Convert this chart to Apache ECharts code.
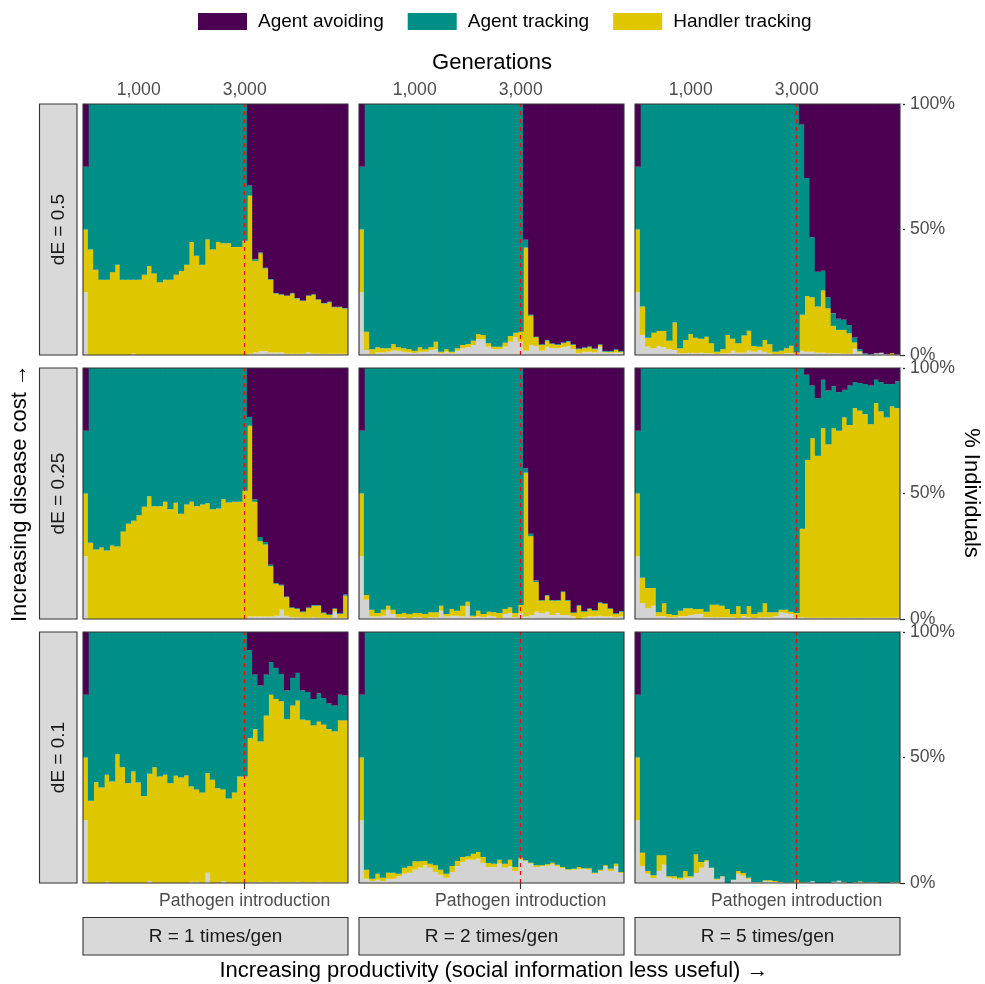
<!DOCTYPE html>
<html>
<head>
<meta charset="utf-8">
<script src="https://cdn.jsdelivr.net/npm/echarts@6/dist/echarts.min.js"></script>
<style>
  html, body { margin: 0; padding: 0; background: #ffffff; }
  #chart { width: 985px; height: 984px; }
</style>
</head>
<body>
<div id="chart"></div>
<script>
// generation bins (x categories)
const generations = ['0','100','200','300','400','500','600','700','800','900',
  '1000','1100','1200','1300','1400','1500','1600','1700','1800','1900',
  '2000','2100','2200','2300','2400','2500','2600','2700','2800','2900',
  '3000','3100','3200','3300','3400','3500','3600','3700','3800','3900',
  '4000','4100','4200','4300','4400','4500','4600','4700','4800','4900'];
const topTickGens = ['1000', '3000'];
const pathogenGen = '3000';
const yTicks = [0, 50, 100];
const dELabels = ['dE = 0.5', 'dE = 0.25', 'dE = 0.1'];
const rLabels = ['R = 1 times/gen', 'R = 2 times/gen', 'R = 5 times/gen'];

// % of individuals per bin; "avoiding" is whatever is left up to 100
// dE = 0.5
const other_05_r1 = [25, 0,0,0,0,0,0,0,0,0.5,0, 0,0,0,0,0,0,0,0,0,0, 0,0,0,0,0,0,0,0,0,0, 0.5,1,1.5,1.5,1,1,1,0.5,0.5,0.5, 0.5,1,0.5,0.5,0.5,0.5,0.5,0.5,0.5];
const handler_05_r1 = [25, 42,34,30,30,33,36,30,30,29.5,30, 32,35.5,32.5,29,30,30,32,33.5,36,45, 39.5,36,46,42,45,44.5,44.5,43,43,45.5, 63,36.5,39,33,29,23.5,23,23,24,22, 21,22.5,23.5,21.5,20,20.5,18.5,18.5,18];
const tracking_05_r1 = [25, 58,66,70,70,67,64,70,70,70,70, 68,64.5,67.5,71,70,70,68,66.5,64,55, 60.5,64,54,58,55,55.5,55.5,57,57,54.5, 4,0.6,0.3,0.3,0.3,0.2,0.2,0.2,0.2,0.2, 0.2,0.2,0.2,0.2,0.2,0.2,0.2,0.2,0.2];

const other_05_r2 = [25, 2,0.3,1,1,1.3,2,1.7,1.3,1,0.9, 1.3,1.3,2,2.3,0.7,1.3,0.7,1.7,2.7,3.1, 4,6.3,6.3,3.3,2.3,2.3,3.3,5.3,7,5.3, 1.7,4,3.6,1.7,3.3,2.7,2.7,3.1,3.6,2.3, 0.7,1.3,1.3,1,3.3,1,0.9,1,0.9];
const handler_05_r2 = [25, 7.3,2,2.1,1.7,1.4,2.4,1.4,1.4,1.3,0.8, 1.8,1,1.1,3,0.6,1,0.6,1,1.3,1.3, 1.7,2.1,1.7,1.4,1,1,1.6,2.3,1.9,4, 41.1,11.7,3.4,2.3,2.4,1.7,1.3,1.6,1.7,1.7, 1.6,1.4,1.8,1.3,0.7,0.3,0.4,1,0.4];
const tracking_05_r2 = [25, 90.7,97.7,96.9,97.3,97.3,95.6,96.9,97.3,97.7,98.3, 96.9,97.7,96.9,94.7,98.7,97.7,98.7,97.3,96,95.6, 94.3,91.6,92,95.3,96.7,96.7,95.1,92.4,91.1,90.7, 3.1,0.3,0.3,0.3,0.3,0.3,0.3,0.3,0.3,0.3, 0.3,0.3,0.3,0.3,0.3,0.3,0.3,0.3,0.3];

const other_05_r5 = [25, 8,3.3,2.7,3.6,3.1,2.3,2,0.7,0.7,0.9, 0.7,0.9,0.7,0.7,0.4,0.7,0.7,1.7,0.9,0.9, 1.7,1.3,2,1.3,0.7,0.4,0.4,0.7,0.7,0.4, 1.7,1.3,1.3,0.9,0.9,0.7,0.7,0.7,0.5,0.5, 2.5,1,0.3,0.2,0.7,0.9,0.4,0,0.2];
const handler_05_r5 = [25, 11.3,3.6,6.2,6,6.5,3.4,10.9,2,5.3,7.5, 6.2,5.6,6.6,4,0.9,1.6,7.3,4.8,3.8,6.9, 8,2.3,1.3,4.7,3.6,0.9,1.3,2,3,0.6, 14.3,22.2,21.7,18.4,24.8,17.9,10.9,9.3,9.5,8.1, 2.5,0.5,0,0,0,0,0,0.7,0];
const tracking_05_r5 = [25, 80.7,93.1,91.1,90.4,90.4,94.3,87.1,97.3,94,91.6, 93.1,93.5,92.7,95.3,98.7,97.7,92,93.5,95.3,92.2, 90.3,96.4,96.7,94,95.7,98.7,98.3,97.3,96.3,99, 75.8,47,23.9,13.9,7.9,4.4,5,4.4,4,3.4, 2,0.8,0.4,0.1,0,0,0,0,0];

// dE = 0.25
const other_025_r1 = [25, 0,0,0,0,0,0,0,0,0,0, 0,0,0,0,0,0,0,0,0,0, 0,0,0,0,0,0,0,0,0,0, 1,1,1,1,1,1.3,3.7,1.3,0.7,0.7, 0.5,0.5,0.7,0.5,0.5,0.5,2.9,0.5,0.5];
const handler_025_r1 = [25, 30.4,27.7,28.5,27.3,29.3,28.9,34.9,37.9,39.1,41.3, 44.7,48.9,44.9,44.9,46.7,43.7,46.3,41.9,45.6,46.7, 44.9,45.6,46.1,43.7,44,47.7,46.4,46.7,46.7,51.1, 76,45.7,30,28.7,20,12.7,9.6,7.4,3.7,3.3, 2.2,3.8,4.6,4.8,1.8,1.1,1.1,1.5,8.8];
const tracking_025_r1 = [25, 69.6,72.3,71.5,72.7,70.7,71.1,65.1,62.1,60.9,58.7, 55.3,51.1,55.1,55.1,53.3,56.3,53.7,58.1,54.4,53.3, 55.1,54.4,53.9,56.3,56,52.3,53.6,53.3,53.3,48.9, 3.5,1,1.7,1,0.6,0.3,0.3,0.3,0.3,0.3, 0.3,0.3,0.3,0.3,0.3,0.3,0.3,0.3,0.5];

const other_025_r2 = [25, 7.7,1,1,1.3,3.7,2,0.7,0.7,0.4,0.7, 0.7,0.4,0.7,0.7,3.3,1,1.3,1.3,1,5.1, 0.7,1,0.7,1.3,1,0.4,2,2.4,0.7,2.4, 1,1.6,2.9,2.4,2.9,1.6,2.4,1.6,1.6,1, 0,0.7,1,1,1.3,1,1,0.7,1];
const handler_025_r2 = [25, 1.9,2.7,1.4,2.4,1.6,1.7,1.3,1.7,1.5,1.7, 1.6,1.6,2,2,2,1,2.7,2,4.3,1.8, 0.6,2.3,1.3,1.6,1.7,2,2,2.3,1.7,3.2, 57.3,31.4,11.8,4.9,6.4,5.7,4.9,9.1,5.7,1.4, 5.3,2.2,3,2.3,5.1,5,3,1.3,1.9];
const tracking_025_r2 = [25, 90.4,96.3,97.6,96.3,94.7,96.3,98,97.6,98.1,97.6, 97.7,98,97.3,97.3,94.7,98,96,96.7,94.7,93.1, 98.7,96.7,98,97.1,97.3,97.6,96,95.3,97.6,94.4, 1.7,1,0.6,0.3,0.3,0.3,0.3,0.3,0.3,0.3, 0.3,0.3,0.3,0.3,0.3,0.3,0.3,0.3,0.3];

const other_025_r5 = [25, 6.4,4.3,5.3,1.1,1.1,0.7,0.7,1.1,1.1,1.6, 2,2,0.7,0.7,0.7,0.7,0.7,0.7,0.4,1.1, 0.7,0.4,0.7,0.7,0.7,1.1,2.7,2.4,2,0.7, 0.7,0.5,0.5,0.5,0.5,0.5,0.5,0.5,0.5,0.5, 0.5,0.5,0.5,0.5,0.5,0.5,0.5,0.5,0.5];
const handler_025_r5 = [25, 10,8.1,7.1,1.6,5.2,1.3,0.9,2.2,3.2,2.7, 2,2,2.2,5,5,4.6,3.3,1.3,4.7,0.9, 4.4,1.6,2,5.6,2,1.6,1,1.3,0.9,1.7, 35.3,62.8,71.5,64.5,75.5,69.1,75.5,74.5,79.8,76.8, 83.5,82.5,81.1,77.1,85.5,82.2,79.8,84.2,83.5];
const tracking_025_r5 = [25, 83.6,87.6,87.6,97.3,93.7,98,98.4,96.7,95.7,95.7, 96,96,97.1,94.3,94.3,94.7,96,98,94.9,98, 94.9,98,97.3,93.7,97.3,97.3,96.3,96.3,97.1,97.6, 64,34,21,23,19.3,21.4,16.7,15.4,11,15.7, 10.4,11,12,15.4,9.3,11.7,13.3,8.9,10.7];

// dE = 0.1
const other_01_r1 = [25, 0,0,0,0.5,0,0,0,0,0,0, 0,0.8,0,0,0,0,0,0,0,0.5, 0.5,0,4.1,0,0,0.8,0,0,0,0, 0.3,0.3,0.5,0.3,0.3,0.5,0.3,0.3,0.3,0.5, 0.3,0.3,0.3,0.5,0.3,0.3,0.3,0.3,0.3];
const handler_01_r1 = [25, 32.8,40.1,38,42.6,40.4,51.3,46.1,39.7,44.4,40, 34.7,42.7,46.1,42.4,43.1,39.7,42.7,42,42.8,37.9, 36.8,36.1,39.6,41.1,37.7,36.5,33.7,36.1,42.4,42.4, 57.4,61,55.9,66.4,74.7,72.8,72.1,65,70.4,72.2, 64.8,64.5,62.5,63.8,62.8,61,60.1,64.5,64.5];
const tracking_01_r1 = [25, 67.2,59.9,62,56.9,59.6,48.7,53.9,60.3,55.6,60, 65.3,56.5,53.9,57.6,56.9,60.3,57.3,58,57.2,61.6, 62.7,63.9,56.3,58.9,62.3,62.7,66.3,63.9,57.6,57.6, 35.1,21.7,22.3,16.3,13,12.4,10.9,11.4,11,11, 11.6,11.3,10.5,11.2,10.6,10.2,10.3,10.2,9.9];

const other_01_r2 = [25, 1.7,0.8,1.3,0.8,1.7,1.7,2.7,3.7,4.1,5.3, 6.1,7.1,6.1,4.4,3.3,2.1,4.4,6.7,8.4,9.3, 9.3,9.7,8,6.4,6.4,7.7,6.1,6.7,4.8,9.3, 8.8,7.7,6.4,6.7,6.9,7.5,6.7,5.9,5.1,5.3, 5.6,5.5,5.3,3.7,4.8,6.7,4.8,6.7,4];
const handler_01_r2 = [25, 3.6,0.9,2.4,1.3,2.4,2.4,1,2.4,2.6,3.4, 2.6,1.7,1.6,2.7,2,1.6,2.4,2.1,2,1.4, 2.4,2.7,2.4,1.6,1.3,1.6,1.6,2.6,1.6,0.8, 0.3,0.4,0.7,0.4,0.6,0.6,0.6,0.5,0.4,0.4, 0.8,0.4,0.6,0.4,0.5,0.4,0.9,1,0.4];
const tracking_01_r2 = [25, 94.7,98.3,96.3,97.9,95.9,95.9,96.3,93.9,93.3,91.3, 91.3,91.2,92.3,92.9,94.7,96.3,93.2,91.2,89.6,89.3, 88.3,87.6,89.6,92,92.3,90.7,92.3,90.7,93.6,89.9, 90.9,91.9,92.9,92.9,92.5,91.9,92.7,93.6,94.5,94.3, 93.6,94.1,94.1,95.9,94.7,92.9,94.3,92.3,95.6];

const other_01_r5 = [25, 6.8,3.7,2,4.8,7.3,2.1,1.7,1.3,2.1,2.1, 4,6.1,8.5,5.9,1.3,2.5,0,1.2,3.7,2.9, 1.7,0.3,0.3,0.8,0.6,0.4,0.3,0.2,0.2,0.3, 0,0.3,0.7,0,0,0,0.5,0.9,0,0, 0,0.3,0,0.3,0,0,0,0.3,0];
const handler_01_r5 = [25, 5.3,1.1,1.1,6.3,3.8,0.6,1,0.8,2.7,0.6, 7.5,2.3,0.6,0.2,0.4,0.2,0,0.1,1.1,1.1, 0.4,0.1,0.1,0.3,0.5,0.4,0.1,0,0,0.8, 0.3,0,0,0,0,0,0,0,0.3,0, 0.3,0.3,0.3,0,0.3,0,0,0,0.3];
const tracking_01_r5 = [25, 87.9,95.2,96.9,88.9,88.9,97.3,97.3,97.9,95.2,97.3, 88.5,91.6,90.9,93.9,98.3,97.3,100,98.7,95.2,96, 97.9,99.6,99.6,98.9,98.9,99.2,99.6,99.8,99.8,98.9, 99.7,99.7,99.3,100,100,100,99.5,99.1,99.7,100, 99.7,99.4,99.7,99.7,99.7,100,100,99.7,99.7];

const panels = [
  [other_05_r1, handler_05_r1, tracking_05_r1], [other_05_r2, handler_05_r2, tracking_05_r2], [other_05_r5, handler_05_r5, tracking_05_r5],
  [other_025_r1, handler_025_r1, tracking_025_r1], [other_025_r2, handler_025_r2, tracking_025_r2], [other_025_r5, handler_025_r5, tracking_025_r5],
  [other_01_r1, handler_01_r1, tracking_01_r1], [other_01_r2, handler_01_r2, tracking_01_r2], [other_01_r5, handler_01_r5, tracking_01_r5]
];

// layout
const FONT = 'Liberation Sans, Arial, sans-serif';
const colLeft = [83, 359, 635];
const colWidth = 265;
const rowTop = [104, 368, 632];
const rowHeight = 251;

const colors = { other: '#D3D3D3', handler: '#DFC700', tracking: '#008F86', avoiding: '#4C0052' };

const chart = echarts.init(document.getElementById('chart'), null, { renderer: 'canvas' });

const grids = [], xAxes = [], yAxes = [], series = [], graphics = [];

panels.forEach(function (p, k) {
  const row = Math.floor(k / 3), col = k % 3;
  const other = p[0], handler = p[1], tracking = p[2];
  const avoiding = other.map(function (v, i) {
    return Math.max(0, Math.round((100 - v - handler[i] - tracking[i]) * 10) / 10);
  });

  grids.push({ left: colLeft[col], top: rowTop[row], width: colWidth, height: rowHeight, show: false });

  const xa = {
    gridIndex: k, type: 'category', data: generations,
    axisLine: { show: false }, splitLine: { show: false },
    axisTick: { show: false }, axisLabel: { show: false }
  };
  if (row === 0) {
    const pick = function (i, v) { return topTickGens.indexOf(v) >= 0; };
    xa.position = 'top';
    xa.axisTick = { show: true, alignWithLabel: true, interval: pick, length: 6, lineStyle: { color: '#333333', width: 1.2 } };
    xa.axisLabel = { show: true, interval: pick, margin: 5, color: '#4D4D4D', fontSize: 17.6, fontFamily: FONT,
      formatter: function (v) { return Number(v).toLocaleString('en-US'); } };
  } else if (row === 2) {
    const pick = function (i, v) { return v === pathogenGen; };
    xa.position = 'bottom';
    xa.axisTick = { show: true, alignWithLabel: true, interval: pick, length: 6, lineStyle: { color: '#333333', width: 1.2 } };
    xa.axisLabel = { show: true, interval: pick, margin: 9, color: '#4D4D4D', fontSize: 17.6, fontFamily: FONT,
      formatter: function () { return 'Pathogen introduction'; } };
  }
  xAxes.push(xa);

  yAxes.push({
    gridIndex: k, type: 'value', min: yTicks[0], max: yTicks[2], interval: 50, position: 'right',
    axisLine: { show: false }, splitLine: { show: false },
    axisTick: { show: col === 2, length: 5, lineStyle: { color: '#333333', width: 1.3 } },
    axisLabel: { show: col === 2, margin: 10, color: '#4D4D4D', fontSize: 17.6, fontFamily: FONT, formatter: '{value}%' }
  });

  const layers = [
    { name: 'Other', data: other, color: colors.other },
    { name: 'Handler tracking', data: handler, color: colors.handler },
    { name: 'Agent tracking', data: tracking, color: colors.tracking },
    { name: 'Agent avoiding', data: avoiding, color: colors.avoiding }
  ];
  layers.forEach(function (l, li) {
    const s = {
      type: 'bar', name: l.name, xAxisIndex: k, yAxisIndex: k, stack: 'panel' + k,
      data: l.data, barWidth: '115%', barGap: '0%',
      itemStyle: { color: l.color },
      emphasis: { disabled: true }
    };
    if (li === layers.length - 1) {
      s.markLine = {
        silent: true, symbol: ['none', 'none'], label: { show: false },
        lineStyle: { color: '#FF0000', type: [4, 4], width: 1.2 },
        data: [{ xAxis: pathogenGen }]
      };
    }
    series.push(s);
  });

  // white mask outside the panel on both sides, then the frame
  graphics.push({ type: 'rect', z: 99, silent: true,
    shape: { x: colLeft[col] - 3, y: rowTop[row], width: 3, height: rowHeight }, style: { fill: '#ffffff' } });
  graphics.push({ type: 'rect', z: 99, silent: true,
    shape: { x: colLeft[col] + colWidth, y: rowTop[row], width: 3, height: rowHeight }, style: { fill: '#ffffff' } });
  graphics.push({ type: 'rect', z: 100, silent: true,
    shape: { x: colLeft[col], y: rowTop[row], width: colWidth, height: rowHeight },
    style: { fill: null, stroke: '#333333', lineWidth: 1.1 } });
});

// facet strips
rowTop.forEach(function (t, i) {
  graphics.push({ type: 'rect', z: 100, silent: true, shape: { x: 39.5, y: t, width: 37.5, height: rowHeight },
    style: { fill: '#D9D9D9', stroke: '#333333', lineWidth: 1.1 } });
  graphics.push({ type: 'text', z: 101, silent: true, x: 58.5, y: t + rowHeight / 2, rotation: Math.PI / 2,
    style: { text: dELabels[i], fontSize: 19, fontFamily: FONT, fill: '#1A1A1A',
      align: 'center', verticalAlign: 'middle', textAlign: 'center', textVerticalAlign: 'middle' } });
});
colLeft.forEach(function (l, j) {
  graphics.push({ type: 'rect', z: 100, silent: true, shape: { x: l, y: 917.5, width: colWidth, height: 37.5 },
    style: { fill: '#D9D9D9', stroke: '#333333', lineWidth: 1.1 } });
  graphics.push({ type: 'text', z: 101, silent: true, x: l + colWidth / 2, y: 936.5,
    style: { text: rLabels[j], fontSize: 19, fontFamily: FONT, fill: '#1A1A1A',
      align: 'center', verticalAlign: 'middle', textAlign: 'center', textVerticalAlign: 'middle' } });
});

// axis titles
function title(text, x, y, rot) {
  return { type: 'text', z: 101, silent: true, x: x, y: y, rotation: rot,
    style: { text: text, fontSize: 22, fontFamily: FONT, fill: '#000000',
      align: 'center', verticalAlign: 'middle', textAlign: 'center', textVerticalAlign: 'middle' } };
}
graphics.push(title('Generations', 492, 63, 0));
graphics.push(title('Increasing productivity (social information less useful) \u2192', 494, 971, 0));
graphics.push(title('Increasing disease cost \u2192', 20, 493, Math.PI / 2));
graphics.push(title('% Individuals', 971, 493, -Math.PI / 2));

chart.setOption({
  animation: false,
  backgroundColor: '#ffffff',
  textStyle: { fontFamily: FONT },
  legend: {
    top: 7, left: 193, icon: 'rect', itemWidth: 49, itemHeight: 17, itemGap: 24,
    selectedMode: false,
    data: ['Agent avoiding', 'Agent tracking', 'Handler tracking'],
    textStyle: { fontSize: 19, color: '#000000', fontFamily: FONT, padding: [0, 0, 0, 6] }
  },
  grid: grids,
  xAxis: xAxes,
  yAxis: yAxes,
  series: series,
  graphic: graphics
});
</script>
</body>
</html>
